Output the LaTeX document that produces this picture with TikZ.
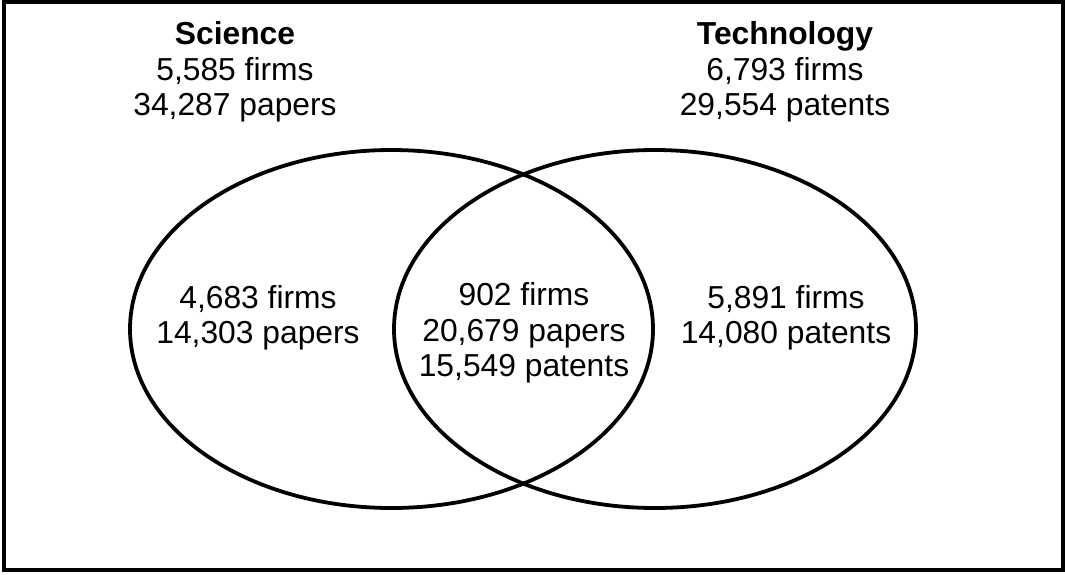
\documentclass[tikz,border=0pt]{standalone}
\usepackage{fontspec}
\setmainfont{Liberation Sans}
\begin{document}
\begin{tikzpicture}[x=1pt,y=-1pt,
  lbl/.style={align=center,inner sep=0pt,font=\fontsize{31.8}{35.5}\selectfont},
  setshape/.style={draw,line width=3.8pt}]
\useasboundingbox (0,0) rectangle (1065,574);
\draw[line width=4.3pt] (4,2) rectangle (1063,570);
\draw[setshape] (391.5,329) ellipse [x radius=261.5, y radius=179];
\draw[setshape] (655,329) ellipse [x radius=261, y radius=179];
\node[lbl] (sci) at (235,72) {\textbf{Science}\\5,585 firms\\34,287 papers};
\node[lbl] (tec) at (785,72) {\textbf{Technology}\\6,793 firms\\29,554 patents};
\node[lbl] (left) at (258,318) {4,683 firms\\14,303 papers};
\node[lbl] (mid) at (524,333) {902 firms\\20,679 papers\\15,549 patents};
\node[lbl] (right) at (786,318) {5,891 firms\\14,080 patents};
\end{tikzpicture}
\end{document}
